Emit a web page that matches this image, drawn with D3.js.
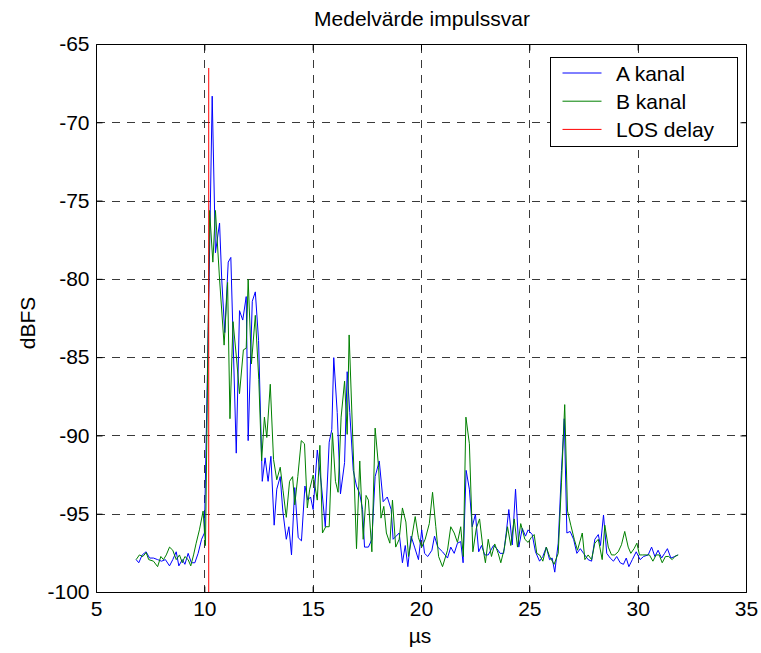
<!DOCTYPE html>
<html>
<head>
<meta charset="utf-8">
<script src="https://cdn.jsdelivr.net/npm/d3@7"></script>
<style>
    body { margin: 0; background: #fff; }
    svg text { font-family: "Liberation Sans", Arial, sans-serif; fill: #000; }
</style>
</head>
<body>
<svg id="chart" width="761" height="653"></svg>
<script>
// A kanal (blue) - time in µs, level in dBFS
const timeA = [6.83,6.95,7.11,7.29,7.45,7.63,7.82,8.00,8.18,8.37,
    8.52,8.68,8.80,8.96,9.08,9.23,9.38,9.54,9.69,9.85,
    9.98,10.16,10.34,10.49,10.68,10.78,10.92,11.08,11.20,11.45,
    11.60,11.75,11.91,12.00,12.19,12.33,12.48,12.65,12.78,12.92,
    13.05,13.20,13.32,13.48,13.60,13.76,13.88,14.00,14.15,14.31,
    14.46,14.62,14.75,14.88,15.00,15.19,15.37,15.56,15.74,15.86,
    15.95,16.11,16.26,16.45,16.57,16.69,16.85,17.00,17.15,17.28,
    17.37,17.55,17.71,17.86,18.05,18.23,18.42,18.60,18.69,18.97,
    19.12,19.25,19.37,19.52,19.68,19.86,20.01,20.14,20.29,20.48,
    20.60,20.75,20.97,21.20,21.35,21.51,21.66,21.81,21.92,22.06,
    22.21,22.34,22.49,22.64,22.77,22.92,23.08,23.20,23.32,23.48,
    23.63,23.79,23.91,24.03,24.19,24.34,24.49,24.65,24.80,24.92,
    25.11,25.26,25.45,25.60,25.76,25.91,26.03,26.15,26.31,26.46,
    26.59,26.71,26.86,27.02,27.17,27.33,27.48,27.69,27.85,28.00,
    28.16,28.26,28.40,28.55,28.71,28.86,29.01,29.17,29.32,29.45,
    29.57,29.73,29.91,30.09,30.25,30.46,30.62,30.77,30.92,31.08,
    31.22,31.35,31.51,31.69,31.82];
const levelA = [-97.9,-98.1,-97.6,-97.4,-97.8,-97.8,-97.9,-98.0,-97.9,-98.3,
    -97.9,-97.4,-98.3,-97.9,-98.2,-97.5,-98.1,-98.1,-97.5,-96.6,
    -96.2,-83.0,-68.3,-78.3,-76.4,-80.0,-83.4,-78.9,-78.6,-91.1,
    -82.0,-82.6,-81.1,-90.3,-81.4,-80.8,-83.9,-92.9,-91.4,-92.9,
    -91.3,-95.7,-93.4,-92.6,-94.8,-96.6,-95.8,-97.6,-93.3,-96.5,
    -96.7,-93.2,-94.1,-93.9,-94.7,-90.9,-93.0,-95.8,-90.4,-89.6,
    -85.0,-88.5,-93.7,-91.7,-85.9,-88.5,-92.2,-93.2,-93.7,-94.7,
    -97.1,-97.1,-96.6,-92.6,-91.6,-94.2,-93.9,-94.7,-96.6,-96.2,
    -98.1,-97.0,-98.35,-96.4,-97.1,-97.9,-96.0,-97.5,-97.7,-97.3,
    -96.4,-97.1,-97.4,-97.8,-97.1,-97.5,-96.85,-96.75,-98.1,-92.2,
    -93.4,-95.8,-95.0,-97.4,-97.0,-97.6,-97.6,-97.3,-97.0,-97.2,
    -97.5,-97.5,-96.2,-94.7,-96.96,-93.4,-97.1,-95.9,-96.4,-96.0,
    -96.3,-97.4,-98.0,-97.7,-97.1,-97.9,-97.8,-98.7,-96.85,-92.2,
    -88.9,-96.2,-96.1,-96.6,-97.5,-97.2,-97.5,-97.9,-98.0,-96.6,
    -96.3,-97.0,-95.05,-97.5,-97.8,-98.0,-97.7,-98.1,-98.2,-97.8,
    -98.35,-97.9,-97.4,-97.9,-97.7,-97.6,-97.1,-97.7,-97.3,-97.8,
    -97.5,-97.2,-97.8,-97.7,-97.6];

// B kanal (green)
const timeB = [6.83,6.98,7.14,7.29,7.41,7.63,7.82,7.97,8.09,8.22,
    8.37,8.52,8.68,8.83,8.96,9.08,9.23,9.35,9.48,9.60,
    9.75,9.92,10.03,10.22,10.37,10.49,10.68,10.89,11.05,11.16,
    11.30,11.46,11.60,11.78,11.91,12.00,12.15,12.33,12.49,12.62,
    12.75,12.86,13.02,13.17,13.32,13.48,13.61,13.76,13.91,14.05,
    14.15,14.29,14.45,14.60,14.73,14.84,15.00,15.19,15.31,15.43,
    15.58,15.74,15.89,16.03,16.15,16.29,16.45,16.57,16.66,16.88,
    17.00,17.15,17.31,17.44,17.55,17.71,17.86,18.02,18.13,18.26,
    18.38,18.54,18.66,18.81,18.97,19.12,19.28,19.40,19.55,19.71,
    19.86,20.01,20.17,20.36,20.51,20.66,20.79,20.97,21.20,21.35,
    21.51,21.66,21.81,21.93,22.05,22.21,22.37,22.53,22.68,22.83,
    22.95,23.08,23.23,23.38,23.54,23.66,23.82,23.97,24.12,24.28,
    24.43,24.58,24.77,24.92,25.06,25.20,25.32,25.45,25.60,25.76,
    25.91,26.12,26.31,26.46,26.61,26.74,26.89,27.05,27.20,27.42,
    27.54,27.69,27.85,28.00,28.16,28.34,28.46,28.62,28.77,28.92,
    29.08,29.23,29.38,29.54,29.66,29.81,29.94,30.06,30.21,30.37,
    30.52,30.68,30.83,30.97,31.11,31.26,31.41,31.57,31.69,31.85];
const levelB = [-97.9,-97.6,-97.7,-97.45,-97.9,-98.0,-98.35,-97.7,-97.9,-97.6,
    -97.1,-97.3,-97.9,-97.6,-98.1,-97.7,-97.9,-98.3,-97.6,-96.85,
    -96.0,-94.8,-97.0,-75.6,-78.9,-75.6,-80.0,-84.2,-80.2,-88.9,
    -82.7,-85.0,-87.3,-84.5,-84.4,-80.0,-85.4,-82.3,-86.4,-91.6,
    -88.8,-90.1,-86.7,-91.5,-92.8,-92.0,-93.5,-95.2,-92.9,-92.6,
    -94.4,-92.6,-90.3,-90.5,-94.6,-93.4,-92.5,-94.1,-90.6,-96.2,
    -95.8,-95.8,-89.8,-92.9,-93.6,-88.8,-86.5,-89.9,-83.55,-92.2,
    -97.2,-91.6,-96.6,-93.8,-94.1,-97.4,-89.5,-92.0,-95.25,-94.5,
    -96.2,-96.85,-94.1,-97.1,-96.6,-94.6,-95.5,-97.7,-96.5,-95.15,
    -96.5,-97.1,-96.6,-95.6,-93.6,-95.8,-97.7,-98.35,-97.3,-95.8,
    -96.2,-96.8,-95.8,-97.7,-88.8,-90.5,-97.4,-95.9,-95.3,-97.1,
    -98.1,-96.6,-97.7,-96.9,-97.5,-98.1,-97.2,-95.8,-97.0,-95.3,
    -97.1,-95.6,-96.6,-96.8,-96.5,-96.3,-97.5,-97.6,-98.0,-97.1,
    -97.7,-98.2,-97.5,-93.0,-88.0,-94.8,-95.7,-96.6,-97.3,-96.2,
    -97.9,-97.6,-97.9,-96.85,-96.6,-97.9,-95.7,-97.1,-97.6,-97.6,
    -97.4,-96.95,-96.1,-97.1,-97.5,-97.2,-96.85,-97.6,-97.6,-97.6,
    -97.6,-98.0,-97.6,-97.6,-98.1,-97.7,-97.7,-97.9,-97.7,-97.6];

// LOS delay marker
const losTime = [10.18, 10.18];
const losLevel = [-66.5, -100];

const xTicks = [5, 10, 15, 20, 25, 30, 35];
const yTicks = [-100, -95, -90, -85, -80, -75, -70, -65];
const seriesNames = ["A kanal", "B kanal", "LOS delay"];
const seriesColors = ["#0000ff", "#008000", "#ff0000"];

const svg = d3.select("#chart");
const font = "21px";

const x = d3.scaleLinear().domain([5, 35]).range([96.5, 746.5]);
const y = d3.scaleLinear().domain([-100, -65]).range([592.5, 44.5]);
const x0 = x.range()[0], x1 = x.range()[1];
const y0 = y.range()[0], y1 = y.range()[1];

// grid
const grid = svg.append("g")
    .attr("stroke", "#3a3a3a")
    .attr("stroke-width", 1)
    .attr("stroke-dasharray", "8,7")
    .attr("shape-rendering", "crispEdges");

grid.selectAll(".vgrid")
    .data(xTicks.slice(1, -1))
    .join("line")
    .attr("x1", d => x(d)).attr("x2", d => x(d))
    .attr("y1", y0).attr("y2", y1);

grid.selectAll(".hgrid")
    .data(yTicks.slice(1, -1))
    .join("line")
    .attr("x1", x0).attr("x2", x1)
    .attr("y1", d => y(d)).attr("y2", d => y(d));

// data lines
const line = d3.line().x(d => x(d[0])).y(d => y(d[1]));
const plotData = [
    d3.zip(timeA, levelA),
    d3.zip(timeB, levelB),
    d3.zip(losTime, losLevel)
];

svg.append("g")
    .selectAll("path")
    .data(plotData)
    .join("path")
    .attr("d", line)
    .attr("fill", "none")
    .attr("stroke", (d, i) => seriesColors[i])
    .attr("stroke-width", 1);

// axes with inward ticks on all sides
const fmt = d => String(d);
const styleAxis = g => {
    g.attr("font-family", null);
    g.select(".domain").attr("stroke", "#000");
    g.selectAll(".tick line").attr("stroke", "#000");
    g.selectAll(".tick text").attr("font-size", font).attr("fill", "#000");
};

svg.append("g")
    .attr("transform", `translate(0,${y0})`)
    .call(d3.axisBottom(x).tickValues(xTicks).tickFormat(fmt).tickSizeInner(-6).tickSizeOuter(0).tickPadding(9).offset(0))
    .call(styleAxis);

svg.append("g")
    .attr("transform", `translate(0,${y1})`)
    .call(d3.axisTop(x).tickValues(xTicks).tickFormat("").tickSizeInner(-6).tickSizeOuter(0).offset(0))
    .call(styleAxis);

svg.append("g")
    .attr("transform", `translate(${x0},0)`)
    .call(d3.axisLeft(y).tickValues(yTicks).tickFormat(fmt).tickSizeInner(-6).tickSizeOuter(0).tickPadding(7).offset(0))
    .call(styleAxis);

svg.append("g")
    .attr("transform", `translate(${x1},0)`)
    .call(d3.axisRight(y).tickValues(yTicks).tickFormat("").tickSizeInner(-6).tickSizeOuter(0).offset(0))
    .call(styleAxis);

// labels
svg.append("text")
    .attr("x", 422).attr("y", 26)
    .attr("text-anchor", "middle")
    .attr("font-size", font)
    .text("Medelvärde impulssvar");

svg.append("text")
    .attr("x", 420).attr("y", 643)
    .attr("text-anchor", "middle")
    .attr("font-size", font)
    .text("µs");

svg.append("text")
    .attr("transform", "translate(35,323) rotate(-90)")
    .attr("text-anchor", "middle")
    .attr("font-size", font)
    .text("dBFS");

// legend
const legend = svg.append("g").attr("transform", "translate(550.5,57.5)");
legend.append("rect")
    .attr("width", 187).attr("height", 89)
    .attr("fill", "#fff").attr("stroke", "#000");

const rows = legend.selectAll(".row")
    .data(seriesNames)
    .join("g")
    .attr("transform", (d, i) => `translate(0,${15.5 + i * 28.2})`);

rows.append("line")
    .attr("x1", 12).attr("x2", 51)
    .attr("stroke", (d, i) => seriesColors[i])
    .attr("stroke-width", 1);

rows.append("text")
    .attr("x", 65.5).attr("y", 7.5)
    .attr("font-size", font)
    .text(d => d);
</script>
</body>
</html>
